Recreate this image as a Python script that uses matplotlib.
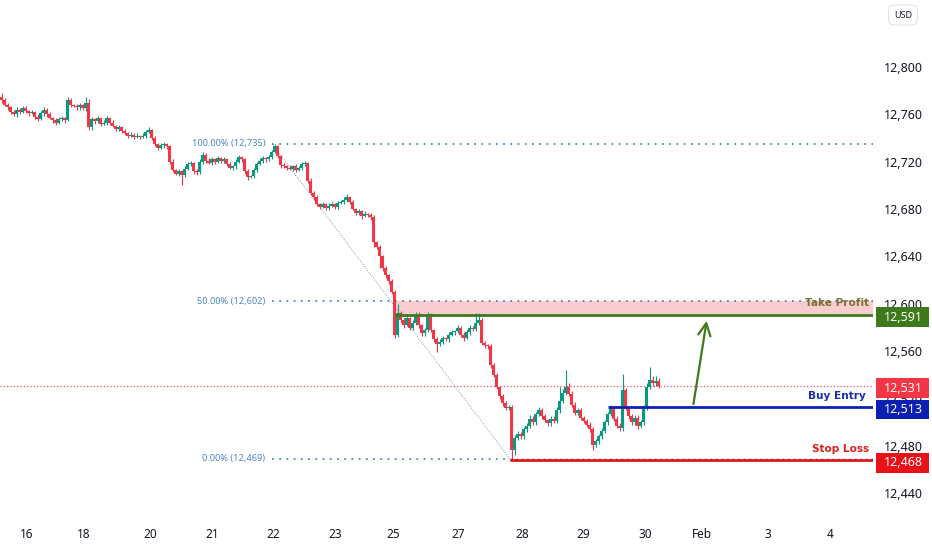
import numpy as np
import matplotlib.pyplot as plt
from matplotlib.patches import Rectangle
import matplotlib.transforms as mtransforms

plt.rcParams['font.family'] = ['Noto Sans', 'DejaVu Sans']

# hourly closes (one candle every ~3 px)
first_open = 12775
closes = [
    12772, 12768, 12766, 12762, 12760, 12764, 12762, 12765, 12763, 12761,
    12762, 12758, 12756, 12761, 12764, 12760, 12757, 12755, 12753, 12756,
    12757, 12755, 12772, 12768, 12767, 12766, 12768, 12765, 12770, 12749,
    12756, 12754, 12757, 12752, 12753, 12757, 12753, 12750, 12748, 12749,
    12746, 12744, 12742, 12743, 12741, 12742, 12741, 12742, 12745, 12747,
    12740, 12735, 12732, 12734, 12735, 12733, 12720, 12713, 12710, 12712,
    12709, 12714, 12718, 12719, 12712, 12711, 12720, 12726, 12721, 12719,
    12722, 12720, 12723, 12721, 12722, 12718, 12715, 12716, 12720, 12724,
    12722, 12712, 12707, 12708, 12713, 12718, 12721, 12723, 12722, 12724,
    12728, 12733, 12725, 12717, 12716, 12715, 12714, 12716, 12713, 12715,
    12718, 12719, 12704, 12694, 12690, 12684, 12682, 12684, 12681, 12683,
    12684, 12682, 12685, 12686, 12688, 12690, 12686, 12680, 12677, 12678,
    12674, 12676, 12675, 12673, 12652, 12648, 12640, 12630, 12624, 12619,
    12610, 12574, 12592, 12586, 12582, 12588, 12580, 12584, 12591, 12582,
    12575, 12578, 12590, 12578, 12570, 12566, 12568, 12571, 12570, 12574,
    12576, 12577, 12580, 12574, 12571, 12576, 12580, 12579, 12584, 12586,
    12567, 12565, 12564, 12548, 12540, 12530, 12522, 12516, 12512, 12513,
    12477, 12487, 12490, 12488, 12494, 12497, 12503, 12500, 12507, 12510,
    12505, 12502, 12499, 12503, 12501, 12510, 12518, 12525, 12530, 12524,
    12515, 12508, 12510, 12504, 12501, 12498, 12494, 12481, 12484, 12488,
    12493, 12500, 12507, 12512, 12503, 12497, 12495, 12527, 12512, 12505,
    12500, 12504, 12497, 12500, 12512, 12530, 12536, 12533, 12535, 12531,
]
# wick lengths above / below the body
upper_wick = [
    3, 2, 2, 1, 2, 2, 1, 2, 2, 1,  2, 1, 2, 2, 2, 1, 2, 1, 2, 2,
    2, 1, 3, 2, 1, 2, 2, 1, 5, 3,  2, 1, 2, 1, 2, 2, 1, 2, 1, 2,
    1, 2, 1, 2, 1, 2, 1, 2, 2, 2,  1, 2, 1, 2, 2, 1, 1, 2, 1, 2,
    1, 2, 2, 2, 1, 2, 2, 2, 1, 2,  2, 1, 2, 1, 2, 1, 2, 1, 2, 2,
    1, 1, 2, 1, 2, 2, 2, 2, 1, 2,  2, 2, 1, 1, 2, 1, 2, 1, 2, 1,
    2, 2, 1, 2, 1, 2, 1, 2, 1, 2,  2, 1, 2, 2, 2, 3, 1, 2, 1, 2,
    1, 2, 1, 2, 2, 1, 2, 1, 2, 1,  2, 2, 8, 2, 2, 2, 1, 2, 2, 2,
    1, 2, 3, 2, 1, 2, 2, 2, 1, 2,  2, 1, 2, 1, 2, 2, 2, 1, 8, 6,
    2, 2, 1, 2, 2, 2, 1, 2, 2, 2,  2, 2, 3, 2, 2, 2, 3, 2, 2, 3,
    2, 2, 1, 2, 2, 3, 12, 3, 14, 3, 2, 2, 2, 2, 1, 2, 2, 2, 2, 2,
    2, 2, 2, 3, 2, 2, 2, 14, 2, 2, 2, 2, 2, 2, 3, 3, 11, 3, 4, 2,
]
lower_wick = [
    2, 1, 2, 2, 1, 2, 2, 1, 2, 2,  1, 2, 2, 1, 2, 2, 1, 2, 2, 1,
    2, 2, 1, 2, 1, 2, 2, 1, 2, 2,  2, 2, 1, 2, 1, 2, 2, 1, 2, 2,
    2, 1, 2, 1, 2, 1, 2, 1, 2, 1,  2, 2, 2, 1, 2, 2, 2, 2, 1, 2,
    9, 2, 1, 2, 2, 2, 1, 2, 2, 1,  2, 2, 1, 2, 2, 2, 1, 2, 2, 1,
    2, 2, 2, 1, 2, 2, 1, 2, 2, 1,  2, 1, 2, 2, 1, 2, 1, 2, 2, 1,
    2, 2, 2, 2, 2, 1, 2, 1, 2, 2,  1, 2, 2, 1, 2, 2, 2, 1, 2, 2,
    2, 1, 2, 2, 4, 2, 10, 2, 2, 2, 2, 3, 2, 2, 2, 1, 2, 2, 2, 2,
    2, 2, 2, 2, 2, 7, 2, 2, 1, 2,  1, 2, 2, 2, 2, 1, 2, 2, 2, 2,
    2, 2, 2, 2, 2, 2, 2, 2, 2, 2,  9, 5, 2, 2, 2, 2, 2, 2, 2, 2,
    2, 2, 2, 2, 2, 2, 2, 2, 2, 2,  2, 2, 2, 2, 2, 2, 2, 4, 2, 2,
    2, 2, 2, 2, 2, 2, 2, 2, 2, 2,  2, 2, 3, 2, 2, 2, 2, 2, 2, 2,
]

# time axis labels (positions in bar units)
day_labels = ['16', '18', '20', '21', '22', '23', '25', '27', '28', '29', '30', 'Feb', '3', '4']
day_pos = [8.5, 27.5, 49.5, 70.2, 90.5, 111.2, 130.5, 152.2, 173.5, 193.8, 214.5, 233.5, 255.5, 276.2]
price_ticks = [12440, 12480, 12520, 12560, 12600, 12640, 12680, 12720, 12760, 12800]

# fibonacci retracement
fib_levels = [12735, 12602, 12469]
fib_names = ['100.00% (12,735)', '50.00% (12,602)', '0.00% (12,469)']
fib_start, fib_end = 90.2, 169.5

# trade levels
take_profit, zone_top, tp_start = 12591, 12602, 131.2
buy_entry, buy_start = 12513, 202.0
stop_loss, sl_start = 12468, 169.5
last_price = 12531
arrow_from = (230.5, 12513)
arrow_to = (235.2, 12588)

UP, DOWN = '#089981', '#f23645'
FIB = '#4a86c8'

xmin, xmax = -0.5, 290.5
ymin, ymax = 12421.7, 12856.6

fig = plt.figure(figsize=(9.32, 5.5), dpi=100)
ax = fig.add_axes([0, 35 / 550, 873 / 932, 515 / 550])
ax.set_xlim(xmin, xmax)
ax.set_ylim(ymin, ymax)
for s in ax.spines.values():
    s.set_visible(False)

closes = np.array(closes, dtype=float)
opens = np.concatenate([[first_open], closes[:-1]])
highs = np.maximum(opens, closes) + np.array(upper_wick)
lows = np.minimum(opens, closes) - np.array(lower_wick)
idx = np.arange(len(closes))
colors = np.where(closes >= opens, UP, DOWN)

# level zone + lines
ax.fill_between([tp_start, xmax], take_profit, zone_top, color='#f9cdd0', lw=0, zorder=1)
ax.hlines(last_price, xmin, xmax, colors=DOWN, linestyles=(0, (1, 2)), lw=0.8, zorder=1)

# fib
ax.plot([fib_start, fib_end], [fib_levels[0], fib_levels[2]], color='#7d9bb8',
        ls=(0, (1, 1.5)), lw=0.7, zorder=1)
for lv, nm in zip(fib_levels, fib_names):
    end = xmax if lv != fib_levels[2] else fib_end
    ax.hlines(lv, fib_start, end, colors=FIB, linestyles=(0, (1, 3)), lw=1.3, zorder=2)
    ax.text(fib_start - 2.2, lv, nm, color=FIB, fontsize=6.6, ha='right', va='center')

# candles
ax.vlines(idx, lows, highs, colors=colors, lw=0.8, zorder=3)
ax.bar(idx, closes - opens, bottom=opens, width=0.74, color=colors, lw=0, zorder=3)

ax.hlines(take_profit, tp_start, xmax, colors='#3e7a1c', lw=2, zorder=4)
ax.hlines(buy_entry, buy_start, xmax, colors='#0c1fb3', lw=2, zorder=4)
ax.hlines(stop_loss, sl_start, xmax, colors='#e3161e', lw=2, zorder=4)
ax.hlines(fib_levels[2], sl_start, xmax, colors='#b0121a', linestyles=(0, (1, 3)), lw=1, zorder=5)

ax.annotate('', xy=arrow_to, xytext=arrow_from,
            arrowprops=dict(arrowstyle='->', color='#3e7a1c', lw=1.6, mutation_scale=22))

lab_kw = dict(fontsize=7.6, fontweight='bold', family=['DejaVu Sans'], ha='right',
              va='center', zorder=6)
ax.text(xmax - 1.3, take_profit + 9.5, 'Take Profit', color='#7a7235', **lab_kw)
ax.text(xmax - 2.4, buy_entry + 9.5, 'Buy Entry', color='#1a2fb0', **lab_kw)
ax.text(xmax - 1.3, stop_loss + 9.5, 'Stop Loss', color='#e0201f', **lab_kw)

# axes ticks
ax.yaxis.tick_right()
ax.set_yticks(price_ticks)
ax.set_yticklabels([f'{p:,}' for p in price_ticks])
ax.tick_params(axis='y', length=0, pad=8, labelsize=9, labelcolor='#131722')
ax.set_xticks(day_pos)
ax.set_xticklabels(day_labels)
ax.tick_params(axis='x', length=0, pad=9, labelsize=8.5, labelcolor='#131722')
for lab in ax.get_xticklabels():
    if lab.get_text() == 'Feb':
        lab.set_fontweight('bold')

# price boxes on the right axis
trans = mtransforms.blended_transform_factory(ax.transAxes, ax.transData)
boxes = [(take_profit, '#3e7a1c'), (last_price, '#f23645'),
         (buy_entry, '#0c1fb3'), (stop_loss, '#eb1119')]
for val, col in boxes:
    ax.add_patch(Rectangle((1.0035, val - 10.5), 0.061, 16.5, transform=trans,
                           facecolor=col, edgecolor='none', clip_on=False, zorder=7))
    ax.text(1.0345, val - 2.2, f'{val:,}', transform=trans, color='white', fontsize=9,
            ha='center', va='center', clip_on=False, zorder=8)

fig.text(903 / 932, 1 - 15 / 550, 'USD', fontsize=6.5, color='#131722', ha='center', va='center',
         bbox=dict(boxstyle='round,pad=0.6', fc='white', ec='#e0e3eb', lw=0.8))

fig.savefig('out.png', dpi=100)
